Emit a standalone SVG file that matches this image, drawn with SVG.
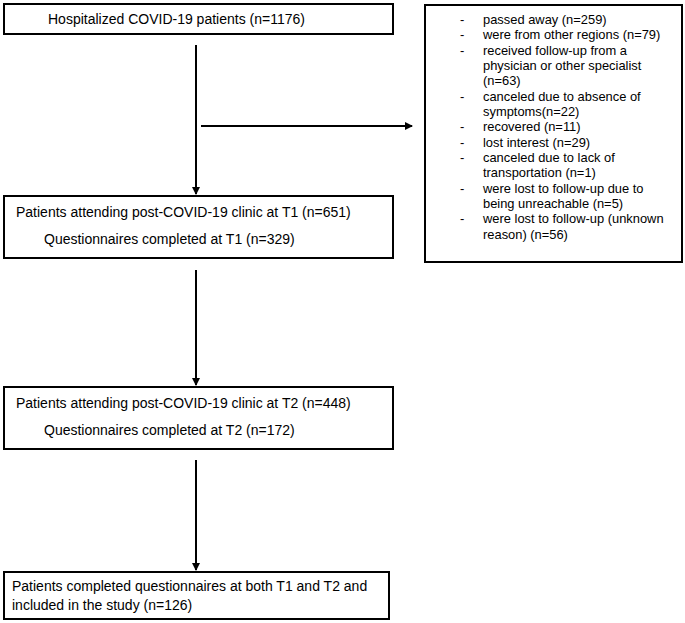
<svg xmlns="http://www.w3.org/2000/svg" width="685" height="623" viewBox="0 0 685 623">
<style>
rect{fill:#fff;stroke:#000;stroke-width:2}
text{font-family:"Liberation Sans",Arial,sans-serif;font-size:14px;fill:#000}
.r text{font-size:12.9px}
line{stroke:#000;stroke-width:2}
</style>
<defs><marker id="a" markerWidth="8" markerHeight="8" refX="7" refY="4" orient="auto" markerUnits="userSpaceOnUse"><path d="M0,0L8,4L0,8z"/></marker></defs>
<rect width="685" height="623" style="stroke:none"/>
<g id="n1"><rect x="4" y="4" width="389" height="30"/><text x="48" y="24">Hospitalized COVID-19 patients (n=1176)</text></g>
<g id="n2"><rect x="4" y="196" width="389" height="62"/><text x="16" y="217">Patients attending post-COVID-19 clinic at T1 (n=651)</text><text x="44" y="244">Questionnaires completed at T1 (n=329)</text></g>
<g id="n3"><rect x="4" y="387" width="389" height="62"/><text x="16" y="408">Patients attending post-COVID-19 clinic at T2 (n=448)</text><text x="44" y="435">Questionnaires completed at T2 (n=172)</text></g>
<g id="n4"><rect x="4" y="572" width="385" height="47"/><text x="12" y="591">Patients completed questionnaires at both T1 and T2 and</text><text x="12" y="610">included in the study (n=126)</text></g>
<g id="n5" class="r"><rect x="425" y="5" width="257" height="257"/>
<text x="460" y="24">-</text><text x="483" y="24">passed away (n=259)</text>
<text x="460" y="39">-</text><text x="483" y="39">were from other regions (n=79)</text>
<text x="460" y="55">-</text><text x="483" y="55">received follow-up from a</text>
<text x="483" y="70">physician or other specialist</text>
<text x="483" y="85">(n=63)</text>
<text x="460" y="101">-</text><text x="483" y="101">canceled due to absence of</text>
<text x="483" y="116">symptoms(n=22)</text>
<text x="460" y="131">-</text><text x="483" y="131">recovered (n=11)</text>
<text x="460" y="147">-</text><text x="483" y="147">lost interest (n=29)</text>
<text x="460" y="162">-</text><text x="483" y="162">canceled due to lack of</text>
<text x="483" y="177">transportation (n=1)</text>
<text x="460" y="193">-</text><text x="483" y="193">were lost to follow-up due to</text>
<text x="483" y="208">being unreachable (n=5)</text>
<text x="460" y="223">-</text><text x="483" y="223">were lost to follow-up (unknown</text>
<text x="483" y="239">reason) (n=56)</text>
</g>
<g id="connectors">
<line x1="196" y1="45" x2="196" y2="194" marker-end="url(#a)"/>
<line x1="201" y1="126" x2="412" y2="126" marker-end="url(#a)"/>
<line x1="196" y1="270" x2="196" y2="385" marker-end="url(#a)"/>
<line x1="196" y1="460" x2="196" y2="570" marker-end="url(#a)"/>
</g>
</svg>
